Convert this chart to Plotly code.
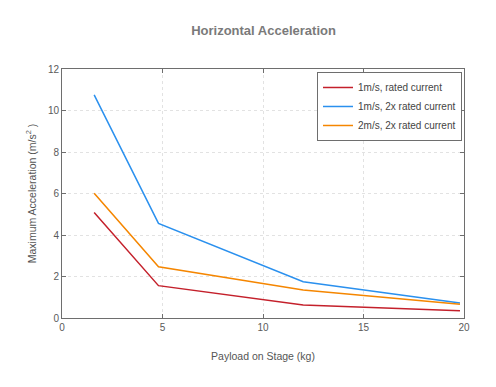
import plotly.graph_objects as go

payload = [1.6, 4.8, 12.0, 19.8]
acc_1ms_rated = [5.08, 1.56, 0.63, 0.35]
acc_1ms_2x = [10.75, 4.56, 1.75, 0.72]
acc_2ms_2x = [6.01, 2.47, 1.35, 0.66]

series = [
    ("1m/s, rated current", acc_1ms_rated, "#c4202b"),
    ("1m/s, 2x rated current", acc_1ms_2x, "#2a90ee"),
    ("2m/s, 2x rated current", acc_2ms_2x, "#f58600"),
]

fig = go.Figure()
for name, ys, col in series:
    fig.add_trace(go.Scatter(x=payload, y=ys, mode="lines", name=name,
                             line=dict(color=col, width=1.5)))

font = "Liberation Sans, Arial, sans-serif"
axis_common = dict(
    showline=True, linecolor="#6e6e6e", linewidth=1, mirror="ticks",
    ticks="inside", ticklen=4, tickcolor="#6e6e6e",
    showgrid=True, gridcolor="#e2e2e2", griddash="dot", gridwidth=1,
    zeroline=False, tickfont=dict(family=font, size=10, color="#5a5a5a"),
)

fig.update_layout(
    width=488, height=379,
    paper_bgcolor="white", plot_bgcolor="white",
    margin=dict(l=54, r=32, t=61, b=69),
    title=dict(text="<b>Horizontal Acceleration</b>", x=0.5236, xanchor="center",
               y=0.940, yanchor="middle",
               font=dict(family=font, size=13, color="#7a7a7a")),
    xaxis=dict(range=[0, 20], tickvals=[0, 5, 10, 15, 20],
               title=dict(text="Payload on Stage (kg)", standoff=20,
                          font=dict(family=font, size=10.5, color="#555555")),
               **axis_common),
    yaxis=dict(range=[0, 12], tickvals=[0, 2, 4, 6, 8, 10, 12],
               title=dict(text="Maximum Acceleration (m/s<sup>2</sup> )", standoff=9,
                          font=dict(family=font, size=10.5, color="#555555")),
               **axis_common),
    legend=dict(x=0.995, y=0.988, xanchor="right", yanchor="top",
                bgcolor="white", bordercolor="#6e6e6e", borderwidth=1,
                font=dict(family=font, size=10, color="#444444"),
                tracegroupgap=0, itemwidth=30),
    showlegend=True,
)

fig.write_html("out.html")
